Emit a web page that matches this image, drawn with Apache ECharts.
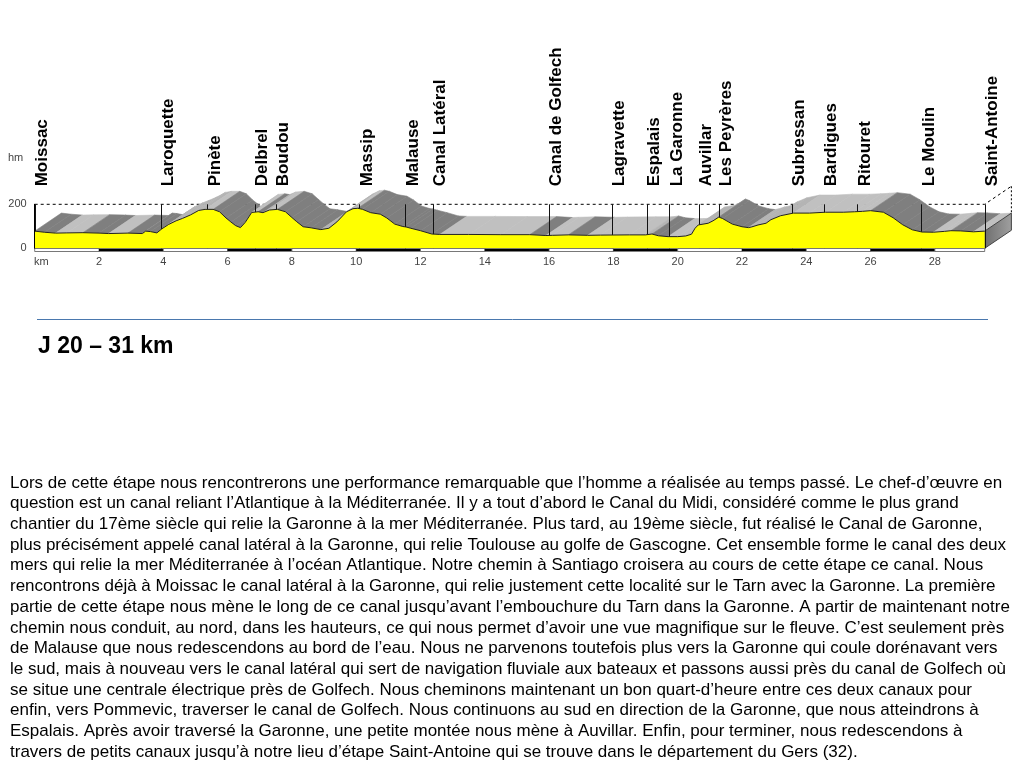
<!DOCTYPE html>
<html><head><meta charset="utf-8">
<script src="https://cdn.jsdelivr.net/npm/echarts@6/dist/echarts.min.js"></script>
<style>html,body{margin:0;padding:0;background:#fff}#c{width:1024px;height:768px}</style>
</head><body><div id="c"></div>
<script>
// ---- data ----
const kmPts = [0,0.3,0.65,1.0,1.5,2.0,2.3,2.9,3.35,3.45,3.6,3.8,3.95,4.16,4.4,4.6,4.85,5.1,5.3,5.55,5.75,5.95,6.1,6.25,6.4,6.55,6.75,6.95,7.1,7.3,7.55,7.8,8.0,8.15,8.35,8.6,8.9,9.15,9.4,9.7,9.9,10.05,10.2,10.45,10.75,10.95,11.2,11.45,11.55,11.7,12.0,12.35,12.6,13.5,14.5,15.4,15.9,16.1,16.6,17.2,17.6,18.5,19.0,19.2,19.4,19.7,20.0,20.25,20.43,20.54,20.64,20.95,21.1,21.28,21.4,21.7,22.0,22.2,22.3,22.5,22.75,22.9,23.2,23.6,24.1,24.6,25.15,25.5,25.75,26.0,26.4,26.7,27.0,27.3,27.6,27.95,28.3,28.5,28.8,29.2,29.55];
const elevPts = [78,73,69,70,71,69,67,69,67,78,76,70,88,108,125,136,152,172,177,177,166,138,120,103,94,118,163,166,162,174,177,166,140,121,98,93,85,91,120,166,180,182,177,162,155,138,110,99,97,91,80,65,63,63,62,62,58,59,61,59,60,61,61,65,57,53,53,56,64,91,106,114,125,142,135,110,98,94,97,106,114,130,148,160,160,164,164,166,168,171,164,139,107,84,74,73,77,80,79,75,78];
const placeNames = ['Moissac','Laroquette','Pinète','Delbrel','Boudou','Massip','Malause','Canal Latéral','Canal de Golfech','Lagravette','Espalais','La Garonne','Auvillar','Les Peyrères','Subressan','Bardigues','Ritouret','Le Moulin','Saint-Antoine'];
const placeKm = [0,3.92,5.37,6.85,7.51,10.1,11.53,12.38,16.0,17.95,19.04,19.74,20.67,21.29,23.56,24.56,25.59,27.58,29.55];
const bandStops = [0,2,4,6,8,10,12,14,16,18,20,22,24,26,28,29.55];
const titleText = 'J 20 – 31 km';
const paragraph = [
'Lors de cette étape nous rencontrerons une performance remarquable que l’homme a réalisée au temps passé. Le chef-d’œuvre en',
'question est un canal reliant l’Atlantique à la Méditerranée. Il y a tout d’abord le Canal du Midi, considéré comme le plus grand',
'chantier du 17ème siècle qui relie la Garonne à la mer Méditerranée. Plus tard, au 19ème siècle, fut réalisé le Canal de Garonne,',
'plus précisément appelé canal latéral à la Garonne, qui relie Toulouse au golfe de Gascogne. Cet ensemble forme le canal des deux',
'mers qui relie la mer Méditerranée à l’océan Atlantique. Notre chemin à Santiago croisera au cours de cette étape ce canal. Nous',
'rencontrons déjà à Moissac le canal latéral à la Garonne, qui relie justement cette localité sur le Tarn avec la Garonne. La première',
'partie de cette étape nous mène le long de ce canal jusqu’avant l’embouchure du Tarn dans la Garonne. A partir de maintenant notre',
'chemin nous conduit, au nord, dans les hauteurs, ce qui nous permet d’avoir une vue magnifique sur le fleuve. C’est seulement près',
'de Malause que nous redescendons au bord de l’eau. Nous ne parvenons toutefois plus vers la Garonne qui coule dorénavant vers',
'le sud, mais à nouveau vers le canal latéral qui sert de navigation fluviale aux bateaux et passons aussi près du canal de Golfech où',
'se situe une centrale électrique près de Golfech. Nous cheminons maintenant un bon quart-d’heure entre ces deux canaux pour',
'enfin, vers Pommevic, traverser le canal de Golfech. Nous continuons au sud en direction de la Garonne, que nous atteindrons à',
'Espalais. Après avoir traversé la Garonne, une petite montée nous mène à Auvillar. Enfin, pour terminer, nous redescendons à',
'travers de petits canaux jusqu’à notre lieu d’étape Saint-Antoine qui se trouve dans le département du Gers (32).'
];

// ---- style constants ----
const DX = 0.83, DY = 82; // pseudo-3D extrusion
const FONT = '"Liberation Sans", Arial, Helvetica, sans-serif';

const chart = echarts.init(document.getElementById('c'), null, {renderer:'canvas'});

function backItem(params, api) {
  const ch = [];
  const n = kmPts.length, kEnd = kmPts[n-1], eEnd = elevPts[n-1];
  const P = (k, e) => api.coord([k, e]);
  ch.push({type:'polyline', shape:{points:[P(0,200),P(kEnd,200),P(kEnd+DX,200+DY)]},
    style:{stroke:'#000', lineWidth:1, lineDash:[3,3], fill:null}});
  ch.push({type:'polyline', shape:{points:[P(kEnd+DX,200+DY),P(kEnd+DX,eEnd+DY)]},
    style:{stroke:'#000', lineWidth:1, lineDash:[2,2], fill:null}});
  for (let i = 0; i < n-1; i++) {
    const k0 = kmPts[i], k1 = kmPts[i+1], e0 = elevPts[i], e1 = elevPts[i+1];
    const s = (e1 - e0) / (k1 - k0);
    const col = s < -1 ? '#7f7f7f' : (s > 20 ? '#b4b4b4' : '#c0c0c0');
    ch.push({type:'polygon', shape:{points:[P(k0,e0),P(k1,e1),P(k1+DX,e1+DY),P(k0+DX,e0+DY)]},
      style:{fill:col, stroke:col, lineWidth:0.6}});
  }
  ch.push({type:'polygon', shape:{points:[P(kEnd,eEnd),P(kEnd,0),P(kEnd+DX,DY),P(kEnd+DX,eEnd+DY)]},
    style:{fill:new echarts.graphic.LinearGradient(0,0,1,0,[{offset:0,color:'#6e6e6e'},{offset:1,color:'#a0a0a0'}]), stroke:'#444', lineWidth:1}});
  return {type:'group', children:ch};
}

function markerItem(params, api) {
  const k = api.value(0);
  const a = api.coord([k, 200]), b = api.coord([k, 0]);
  const x = Math.round(a[0]) + 0.5;
  return {type:'line', shape:{x1:x, y1:a[1], x2:x, y2:b[1]}, style:{stroke:'#111', lineWidth:1}};
}

function nameItem(params, api) {
  const k = api.value(0);
  const a = api.coord([k, 200]);
  return {type:'text', x:a[0]-1, y:a[1]-18, rotation:Math.PI/2,
    style:{text:placeNames[params.dataIndex], font:'bold 17px ' + FONT, fill:'#000', align:'left', verticalAlign:'top'}};
}

function bandItem(params, api) {
  const k0 = api.value(0), k1 = api.value(1), black = api.value(2);
  const a = api.coord([k0, 0]), b = api.coord([k1, 0]);
  const y = Math.round(a[1]) + 0.5;
  return {type:'rect', shape:{x:a[0], y:y, width:b[0]-a[0], height:3},
    style:{fill: black ? '#000' : '#fff', stroke: black ? '#000' : '#555', lineWidth: black ? 0 : 0.8}};
}

const bandData = [];
for (let i = 0; i < bandStops.length-1; i++) bandData.push([bandStops[i], bandStops[i+1], i % 2]);

const graphics = [
  {type:'text', x:8, y:158, style:{text:'hm', font:'11px ' + FONT, fill:'#444', verticalAlign:'middle'}},
  {type:'text', x:34, y:262, style:{text:'km', font:'11px ' + FONT, fill:'#444', verticalAlign:'middle'}},
  {type:'line', shape:{x1:37, y1:319.5, x2:988, y2:319.5}, style:{stroke:'#4a78ae', lineWidth:1}},
  {type:'text', x:38, y:347, style:{text:titleText, font:'bold 23px ' + FONT, fill:'#000', verticalAlign:'middle'}}
];
paragraph.forEach((t, i) => {
  graphics.push({type:'text', x:10, y:483 + i*20.7, style:{text:t, font:'17px ' + FONT, fill:'#000', verticalAlign:'middle'}});
});

chart.setOption({
  animation:false,
  backgroundColor:'#fff',
  grid:{left:34.7, top:204.3, width:951.6, height:44, containLabel:false},
  xAxis:{type:'value', min:0, max:29.6, interval:2,
    axisLine:{show:false}, axisTick:{show:false}, splitLine:{show:false},
    axisLabel:{showMaxLabel:false, formatter:v => v === 0 ? '' : String(v), color:'#444', fontSize:11, fontFamily:FONT, margin:8}},
  yAxis:{type:'value', min:0, max:200, interval:200, z:10,
    axisLine:{show:true, lineStyle:{color:'#000', width:1}}, axisTick:{show:false}, splitLine:{show:false},
    axisLabel:{color:'#444', fontSize:11, fontFamily:FONT, margin:8}},
  graphic:graphics,
  series:[
    {type:'custom', z:1, clip:false, silent:true, data:[[0,0]], renderItem:backItem},
    {type:'custom', z:2, clip:false, silent:true, data:placeKm.map(k => [k, 0]), renderItem:markerItem},
    {type:'line', z:3, symbol:'none', silent:true, data:kmPts.map((k,i) => [k, elevPts[i]]),
      lineStyle:{color:'#222', width:1}, areaStyle:{color:'#ffff00', opacity:1}},
    {type:'custom', z:4, clip:false, silent:true, data:bandData, renderItem:bandItem},
    {type:'custom', z:5, clip:false, silent:true, data:placeKm.map(k => [k, 0]), renderItem:nameItem}
  ]
});
</script></body></html>
